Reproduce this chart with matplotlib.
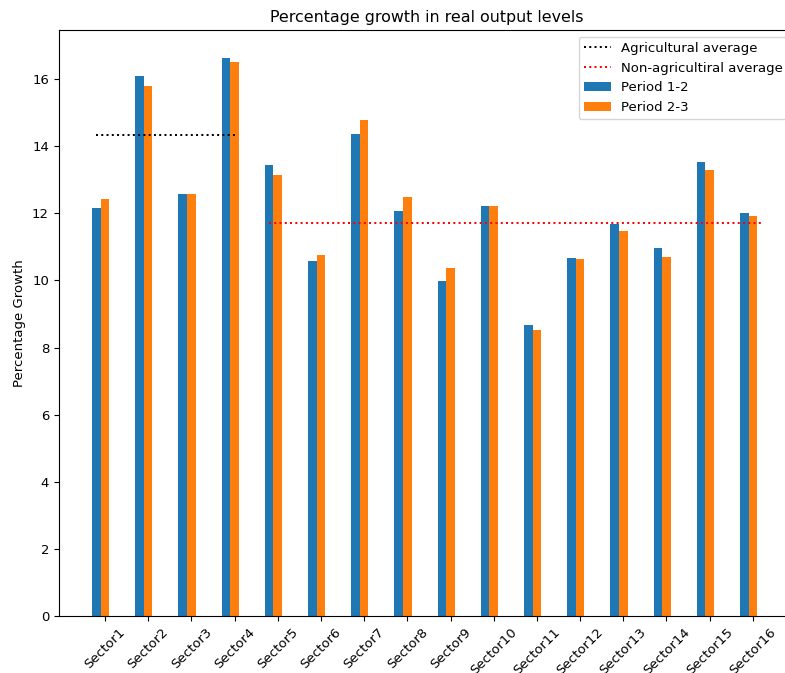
import numpy as np
import matplotlib
matplotlib.use("Agg")
import matplotlib.pyplot as plt

sectors = [f"Sector{i}" for i in range(1, 17)]
period_12 = [12.15, 16.09, 12.57, 16.63, 13.43, 10.57, 14.36, 12.07,
             9.97, 12.22, 8.67, 10.68, 11.68, 10.97, 13.52, 12.01]
period_23 = [12.42, 15.78, 12.57, 16.50, 13.14, 10.76, 14.77, 12.49,
             10.37, 12.22, 8.52, 10.63, 11.47, 10.71, 13.29, 11.93]
agri_avg = 14.34
nonagri_avg = 11.71

s = 0.954
plt.rcParams['font.size'] = 10 * s
plt.rcParams['xtick.major.size'] = 3.5 * s
plt.rcParams['ytick.major.size'] = 3.5 * s

W, H = 785, 673
fig = plt.figure(figsize=(W / 100, H / 100), dpi=100)
left, right, bottom, top = 58.5, 795.0, 616.0, 30.0
ax = fig.add_axes([left / W, (H - bottom) / H, (right - left) / W, (bottom - top) / H])

x = np.arange(len(sectors))
width = 0.2
ax.plot([-0.2, 3.0], [agri_avg, agri_avg], ':', color='black', lw=1.5 * s,
        label='Agricultural average')
ax.plot([3.8, 15.2], [nonagri_avg, nonagri_avg], ':', color='red', lw=1.5 * s,
        label='Non-agricultiral average')
ax.bar(x - width, period_12, width, label='Period 1-2', color='#1f77b4')
ax.bar(x, period_23, width, label='Period 2-3', color='#ff7f0e')

ax.set_xlim(-1.075, 15.975)
ax.set_ylim(0, max(max(period_12), max(period_23)) * 1.05)
ax.set_xticks(x)
ax.set_xticklabels(sectors, rotation=45)
ax.set_ylabel('Percentage Growth')
ax.set_title('Percentage growth in real output levels')
ax.legend(loc='upper right')

fig.savefig('out.png', dpi=100)
